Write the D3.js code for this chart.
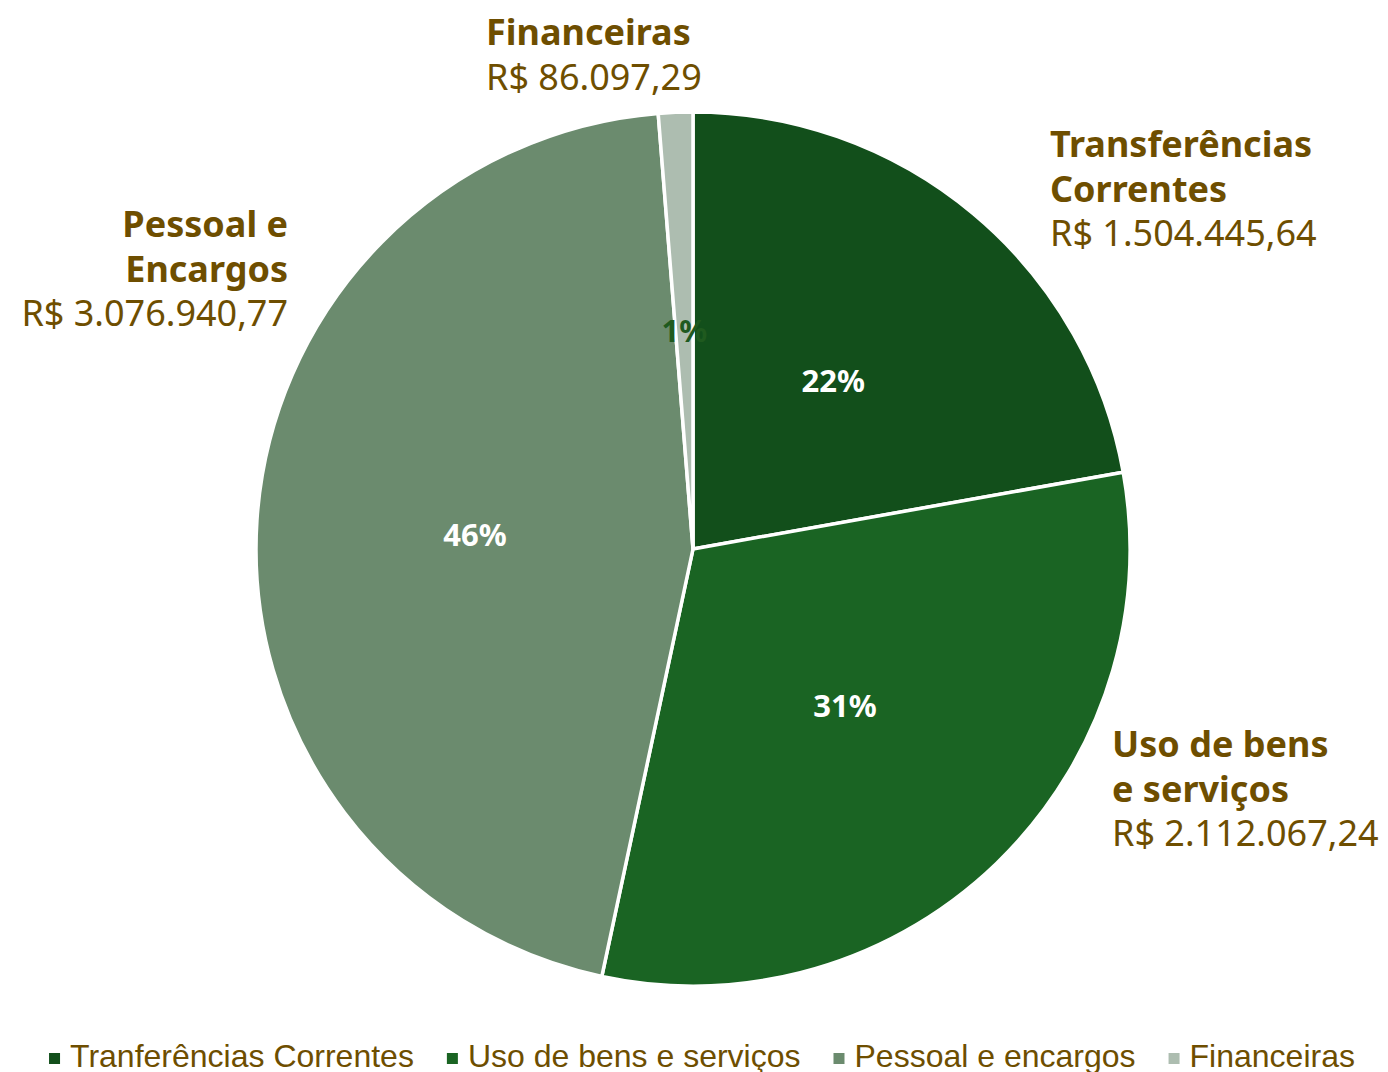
<!DOCTYPE html>
<html>
<head>
<meta charset="utf-8">
<script src="https://cdn.jsdelivr.net/npm/d3@7"></script>
<style>
  body { margin: 0; background: #fff; }
  svg { display: block; }
</style>
</head>
<body>
<div class="pie_chart"></div>
<script>
const w = 1388
const h = 1072

// data
const categories = ["Transferências Correntes", "Uso de bens e serviços", "Pessoal e Encargos", "Financeiras"]
const values = [1504445.64, 2112067.24, 3076940.77, 86097.29]
const labelLines = [["Transferências", "Correntes"], ["Uso de bens", "e serviços"], ["Pessoal e", "Encargos"], ["Financeiras"]]
const valueText = ["R$ 1.504.445,64", "R$ 2.112.067,24", "R$ 3.076.940,77", "R$ 86.097,29"]
const pctText = ["22%", "31%", "46%", "1%"]
const legendNames = ["Tranferências Correntes", "Uso de bens e serviços", "Pessoal e encargos", "Financeiras"]

const colors = ["#124f1b", "#1a6423", "#6b8b6e", "#adbdb0"]
const textColor = "#6e4e00"
const labelFont = "'Noto Sans', 'Open Sans', sans-serif"

const cx = 693, cy = 549, radius = 437

// outside label placement: x, first baseline, anchor
const outside = [
  {x: 1050, y: 157, anchor: "start"},
  {x: 1112, y: 757, anchor: "start"},
  {x: 288, y: 237, anchor: "end"},
  {x: 486, y: 45, anchor: "start"}
]

const svg = d3.select(".pie_chart").append("svg")
    .attr("width", w)
    .attr("height", h)

const pie = d3.pie().sort(null).value(d => d)
const arcs = pie(values)

const arc = d3.arc().innerRadius(0).outerRadius(radius)
const labelArc = d3.arc().innerRadius(radius / 2).outerRadius(radius / 2)

const g = svg.append("g")
    .attr("transform", `translate(${cx},${cy})`)

g.selectAll("path.slice")
    .data(arcs)
    .enter()
    .append("path")
    .attr("class", "slice")
    .attr("d", arc)
    .style("fill", (d, i) => colors[i])
    .style("stroke", "#fff")
    .style("stroke-width", 3.5)
    .style("stroke-linejoin", "round")

g.selectAll("text.pct")
    .data(arcs)
    .enter()
    .append("text")
    .attr("class", "pct")
    .attr("transform", d => `translate(${labelArc.centroid(d)})`)
    .attr("text-anchor", "middle")
    .attr("dy", "0.35em")
    .style("font-family", labelFont)
    .style("font-weight", "bold")
    .style("font-size", "31px")
    .style("fill", (d, i) => i === 3 ? "#1f5a1f" : "#fff")
    .text((d, i) => pctText[i])

// outside category labels
categories.forEach((c, i) => {
  const p = outside[i]
  const t = svg.append("text")
      .attr("x", p.x)
      .attr("y", p.y)
      .attr("text-anchor", p.anchor)
      .style("font-family", labelFont)
      .style("font-size", "36px")
      .style("fill", textColor)
  labelLines[i].forEach((line, j) => {
    t.append("tspan")
      .attr("x", p.x)
      .attr("dy", j === 0 ? 0 : 44.5)
      .style("font-weight", "bold")
      .text(line)
  })
  t.append("tspan")
    .attr("x", p.x)
    .attr("dy", 44.5)
    .text(valueText[i])
})

// legend (bottom edge cropped, as in the original)
const legend = svg.append("g")
const items = legend.selectAll("g")
    .data(legendNames)
    .enter()
    .append("g")

items.append("rect")
    .attr("y", -14)
    .attr("width", 11)
    .attr("height", 11)
    .style("fill", (d, i) => colors[i])

items.append("text")
    .attr("x", 21)
    .style("font-family", "'Liberation Sans', Arial, sans-serif")
    .style("font-size", "32px")
    .style("fill", textColor)
    .text(d => d)

let xPos = 0
items.each(function() {
  const item = d3.select(this)
  item.attr("transform", `translate(${xPos},0)`)
  xPos += 21 + item.select("text").node().getComputedTextLength() + 33
})
const legendWidth = xPos - 33
legend.attr("transform", `translate(${702 - legendWidth / 2},1067)`)
</script>
</body>
</html>
